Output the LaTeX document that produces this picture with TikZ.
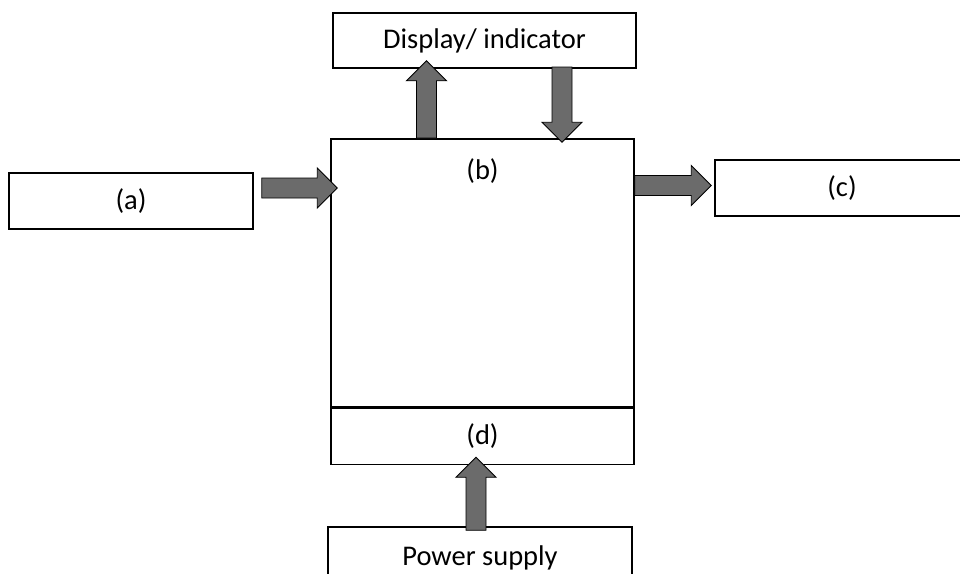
\documentclass[tikz,border=0pt]{standalone}
\usepackage{fontspec}
\setmainfont{Carlito}
\usetikzlibrary{positioning,calc}

\begin{document}
\begin{tikzpicture}[x=1pt,y=-1pt,
	box/.style={draw, line width=1.5pt, inner sep=0pt, font=\fontsize{28.5}{34}\selectfont},
	lab/.style={inner sep=0pt, font=\fontsize{28.5}{34}\selectfont},
	blockarrow/.style={fill=black!58, draw=black, line width=0.9pt, to path={
		($(\tikztostart)!10pt!90:(\tikztotarget)$)
		-- ($(\tikztotarget)!20pt!(\tikztostart)!10pt!-90:(\tikztostart)$)
		-- ($(\tikztotarget)!20pt!(\tikztostart)!20pt!-90:(\tikztostart)$)
		-- (\tikztotarget)
		-- ($(\tikztotarget)!20pt!(\tikztostart)!20pt!90:(\tikztostart)$)
		-- ($(\tikztotarget)!20pt!(\tikztostart)!10pt!90:(\tikztostart)$)
		-- ($(\tikztostart)!10pt!-90:(\tikztotarget)$)
		-- cycle}}]
	\useasboundingbox (0,0) rectangle (960,573);

	%% boxes
	\node[box, minimum width=303, minimum height=268] (main) at (482.5,273) {};
	\node[lab, below=20pt of main.north] (b) {(b)};
	\node[box, minimum width=303, minimum height=56, below=0pt of main] (d) {(d)};
	\node[box, minimum width=303, minimum height=55] (disp) at (484.5,40.5) {Display/ indicator};
	\node[box, minimum width=244, minimum height=56] (a) at (131,201) {(a)};
	\node[box, minimum width=254, minimum height=56] (c) at (842,188) {(c)};
	\node[box, minimum width=304, minimum height=62] (pow) at (480,558) {Power supply};

	% arrow ends
	\coordinate (ab0) at ($(a.east)+(8,-13)$);
	\coordinate (ab1) at ($(ab0 -| main.west)+(7,0)$);
	\coordinate (bc0) at ($(main.east |- c.west)+(0,-2.5)$);
	\coordinate (bc1) at ($(bc0 -| c.west)+(-3,0)$);
	\coordinate (up0) at (426.5,138);
	\coordinate (up1) at ($(up0 |- disp.south)+(0,-8)$);
	\coordinate (dn0) at (562,67);
	\coordinate (dn1) at ($(dn0 |- main.north)+(0,4)$);
	\coordinate (pw0) at ($(pow.north)+(-4,4)$);
	\coordinate (pw1) at ($(pw0 |- d.south)+(0,-8)$);

	\draw[blockarrow] (ab0) to (ab1);
	\draw[blockarrow] (bc0) to (bc1);
	\draw[blockarrow] (up0) to (up1);
	\draw[blockarrow] (dn0) to (dn1);
	\draw[blockarrow] (pw0) to (pw1);
\end{tikzpicture}
\end{document}
